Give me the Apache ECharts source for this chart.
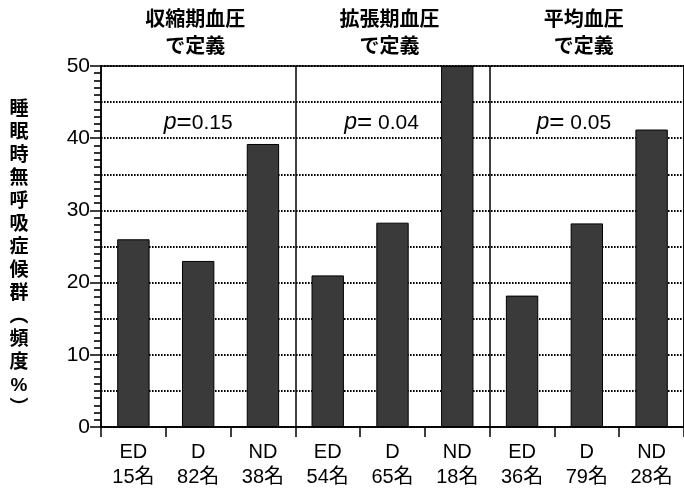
<!DOCTYPE html>
<html>
<head>
<meta charset="utf-8">
<script src="https://cdn.jsdelivr.net/npm/echarts@6/dist/echarts.min.js"></script>
<style>
  html, body { margin: 0; padding: 0; background: #fff; }
  #container { width: 684px; height: 494px; }
</style>
</head>
<body>
<div id="container"></div>
<script>
// data
var groups = ['収縮期血圧\nで定義', '拡張期血圧\nで定義', '平均血圧\nで定義'];
var pValues = ['0.15', ' 0.04', ' 0.05'];
var categories = ['ED', 'D', 'ND', 'ED', 'D', 'ND', 'ED', 'D', 'ND'];
var counts = ['15名', '82名', '38名', '54名', '65名', '18名', '36名', '79名', '28名'];
var values = [26, 23, 39.2, 21, 28.3, 50, 18.2, 28.2, 41.2];
var yTitle = '睡眠時無呼吸症候群︵頻度%︶';

var FONT = "'Liberation Sans', 'Noto Sans CJK JP', sans-serif";

var labels = categories.map(function (c, i) { return c + '\n' + counts[i]; });

var myChart = echarts.init(document.getElementById('container'));

var option = {
    animation: false,
    backgroundColor: '#fff',
    grid: {
        left: 101, top: 66, bottom: 67, right: -11,
        show: true, borderColor: '#000', borderWidth: 1.5, backgroundColor: 'transparent'
    },
    xAxis: {
        type: 'category',
        data: labels,
        boundaryGap: true,
        axisLine: { lineStyle: { color: '#000', width: 1.5 } },
        axisTick: { show: true, interval: 0, length: 10, lineStyle: { color: '#000', width: 1.5 } },
        axisLabel: {
            interval: 0, margin: 13, color: '#000',
            fontFamily: FONT, fontSize: 20, lineHeight: 25
        },
        splitLine: {
            show: true,
            interval: function (index) { return index === 3 || index === 6; },
            lineStyle: { color: '#000', width: 1.5 }
        }
    },
    yAxis: [{
        type: 'value',
        min: 0, max: 50, interval: 10,
        axisLine: { show: true, lineStyle: { color: '#000', width: 1.5 } },
        axisTick: { show: true, length: 11, lineStyle: { color: '#000', width: 1.5 } },
        minorTick: { show: true, splitNumber: 10, length: 7, lineStyle: { color: '#000', width: 1.6 } },
        axisLabel: { color: '#000', fontFamily: FONT, fontSize: 21, margin: 11 },
        splitLine: { show: false }
    }, {
        type: 'value',
        position: 'left',
        min: 0, max: 50, interval: 5,
        axisLine: { show: false },
        axisTick: { show: false },
        axisLabel: { show: false },
        splitLine: {
            show: true,
            lineStyle: { color: '#000', width: 1.8, type: [1.6, 1.4] }
        }
    }],
    series: [{
        type: 'bar',
        yAxisIndex: 0,
        data: values,
        barWidth: '50%',
        z: 3,
        itemStyle: { color: '#3a3a3a', borderColor: '#000', borderWidth: 1 }
    }]
};

myChart.setOption(option);

// titles and p-values placed over the three groups
var gfx = [];
var pOffsets = [0, -11, -13];
for (var g = 0; g < groups.length; g++) {
    var cx = myChart.convertToPixel({ xAxisIndex: 0 }, g * 3 + 1);
    var lines = groups[g].split('\n');
    gfx.push({
        type: 'text', x: cx - 3, y: 20,
        style: { text: lines[0], fill: '#000', font: 'bold 20px ' + FONT, align: 'center', verticalAlign: 'middle' }
    });
    gfx.push({
        type: 'text', x: cx - 3, y: 47,
        style: { text: lines[1], fill: '#000', font: 'bold 20px ' + FONT, align: 'center', verticalAlign: 'middle' }
    });
    gfx.push({
        type: 'text', x: cx + pOffsets[g], y: myChart.convertToPixel({ yAxisIndex: 0 }, 42.1),
        z: 10,
        style: {
            text: '{p|p}{e|=}{v|' + pValues[g] + '}',
            align: 'center', verticalAlign: 'middle',
            rich: {
                p: { fontFamily: FONT, fontSize: 23, fontStyle: 'italic', fill: '#000' },
                e: { fontFamily: FONT, fontSize: 26, fill: '#000' },
                v: { fontFamily: FONT, fontSize: 21, fill: '#000' }
            }
        }
    });
}
gfx.push({
    type: 'text', x: 19, y: 259,
    style: {
        text: yTitle.split('').join('\n'),
        fill: '#000', font: 'bold 19px ' + FONT, lineHeight: 23,
        align: 'center', verticalAlign: 'middle'
    }
});
myChart.setOption({ graphic: gfx });
</script>
</body>
</html>
